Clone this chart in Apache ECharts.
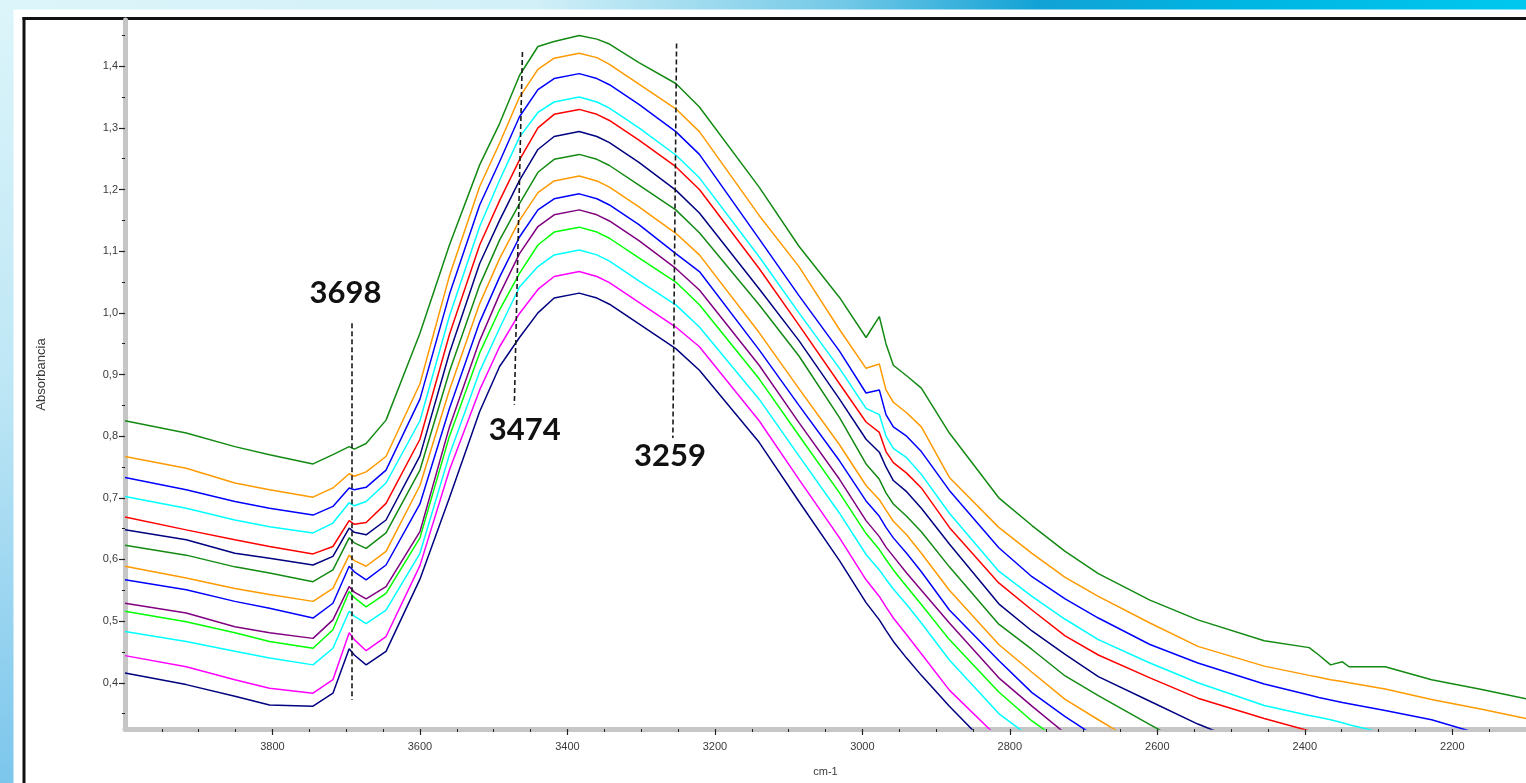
<!DOCTYPE html>
<html>
<head>
<meta charset="utf-8">
<title>Absorbancia</title>
<script src="https://cdn.jsdelivr.net/npm/echarts@6/dist/echarts.min.js"></script>
<style>
  html, body { margin: 0; padding: 0; background: #fff; }
  #chart { width: 1526px; height: 783px; }
</style>
</head>
<body>
<div id="chart"></div>
<script>
// wavenumbers (cm-1) shared by all spectra
var wavenumbers = [4000, 3917, 3851, 3804, 3745, 3718, 3696, 3689, 3673, 3646, 3600, 3560, 3519, 3492, 3465, 3440, 3418, 3384, 3360, 3343, 3303, 3253, 3221, 3140, 3086, 3031, 2995, 2977, 2968, 2958, 2940, 2920, 2882, 2815, 2770, 2725, 2680, 2610, 2545, 2455, 2394, 2381, 2365, 2349, 2340, 2291, 2228, 2160, 2100];

// absorbance of each spectrum, top to bottom
var spectrum01 = [0.825, 0.805, 0.783, 0.770, 0.755, 0.770, 0.783, 0.779, 0.788, 0.826, 0.967, 1.110, 1.240, 1.307, 1.385, 1.432, 1.440, 1.450, 1.444, 1.436, 1.406, 1.372, 1.334, 1.204, 1.108, 1.025, 0.960, 0.994, 0.950, 0.915, 0.898, 0.878, 0.805, 0.700, 0.655, 0.613, 0.577, 0.534, 0.502, 0.468, 0.457, 0.445, 0.429, 0.434, 0.426, 0.426, 0.405, 0.389, 0.374];
var spectrum02 = [0.767, 0.748, 0.724, 0.713, 0.701, 0.716, 0.739, 0.735, 0.742, 0.767, 0.885, 1.060, 1.205, 1.275, 1.350, 1.395, 1.413, 1.421, 1.414, 1.403, 1.371, 1.331, 1.294, 1.158, 1.075, 0.973, 0.910, 0.917, 0.875, 0.855, 0.838, 0.815, 0.733, 0.652, 0.610, 0.571, 0.540, 0.497, 0.459, 0.427, 0.412, 0.409, 0.405, 0.402, 0.400, 0.390, 0.373, 0.357, 0.342];
var spectrum03 = [0.733, 0.713, 0.694, 0.683, 0.672, 0.686, 0.716, 0.713, 0.717, 0.745, 0.860, 1.030, 1.175, 1.245, 1.318, 1.362, 1.380, 1.388, 1.380, 1.370, 1.338, 1.294, 1.257, 1.120, 1.028, 0.938, 0.870, 0.875, 0.835, 0.815, 0.800, 0.775, 0.712, 0.619, 0.572, 0.536, 0.505, 0.462, 0.432, 0.398, 0.380, 0.376, 0.372, 0.368, 0.366, 0.355, 0.340, 0.316, null];
var spectrum04 = [0.702, 0.683, 0.664, 0.653, 0.643, 0.659, 0.692, 0.687, 0.694, 0.724, 0.825, 0.995, 1.140, 1.215, 1.285, 1.325, 1.342, 1.350, 1.342, 1.332, 1.300, 1.256, 1.219, 1.091, 1.000, 0.910, 0.845, 0.835, 0.800, 0.780, 0.765, 0.738, 0.675, 0.581, 0.540, 0.503, 0.470, 0.432, 0.400, 0.363, 0.347, 0.344, 0.340, 0.335, 0.332, 0.318, null, null, null];
var spectrum05 = [0.669, 0.648, 0.632, 0.621, 0.609, 0.621, 0.663, 0.657, 0.660, 0.691, 0.795, 0.965, 1.110, 1.182, 1.248, 1.300, 1.322, 1.330, 1.322, 1.312, 1.280, 1.237, 1.200, 1.072, 0.980, 0.885, 0.823, 0.806, 0.775, 0.757, 0.740, 0.716, 0.652, 0.562, 0.518, 0.476, 0.445, 0.408, 0.375, 0.342, 0.322, null, null, null, null, null, null, null, null];
var spectrum06 = [0.648, 0.632, 0.610, 0.602, 0.591, 0.605, 0.651, 0.644, 0.640, 0.664, 0.768, 0.935, 1.080, 1.150, 1.215, 1.265, 1.286, 1.294, 1.286, 1.276, 1.244, 1.199, 1.162, 1.039, 0.955, 0.860, 0.795, 0.774, 0.750, 0.728, 0.710, 0.683, 0.625, 0.528, 0.484, 0.446, 0.410, 0.370, 0.333, 0.290, null, null, null, null, null, null, null, null, null];
var spectrum07 = [0.623, 0.607, 0.588, 0.578, 0.564, 0.583, 0.635, 0.627, 0.618, 0.643, 0.745, 0.905, 1.045, 1.118, 1.177, 1.228, 1.249, 1.257, 1.249, 1.239, 1.207, 1.167, 1.130, 1.013, 0.930, 0.830, 0.755, 0.730, 0.708, 0.690, 0.670, 0.645, 0.588, 0.495, 0.454, 0.411, 0.379, 0.332, 0.290, null, null, null, null, null, null, null, null, null, null];
var spectrum08 = [0.589, 0.570, 0.553, 0.543, 0.532, 0.553, 0.607, 0.598, 0.589, 0.613, 0.720, 0.875, 1.015, 1.088, 1.150, 1.195, 1.214, 1.222, 1.214, 1.204, 1.172, 1.129, 1.094, 0.968, 0.877, 0.786, 0.720, 0.697, 0.680, 0.662, 0.640, 0.610, 0.550, 0.462, 0.417, 0.373, 0.340, 0.290, null, null, null, null, null, null, null, null, null, null, null];
var spectrum09 = [0.567, 0.551, 0.532, 0.521, 0.505, 0.529, 0.589, 0.580, 0.567, 0.591, 0.690, 0.845, 0.985, 1.058, 1.123, 1.167, 1.185, 1.193, 1.185, 1.175, 1.143, 1.096, 1.067, 0.940, 0.850, 0.760, 0.695, 0.670, 0.652, 0.635, 0.610, 0.580, 0.518, 0.436, 0.384, 0.345, 0.310, null, null, null, null, null, null, null, null, null, null, null, null];
var spectrum10 = [0.529, 0.513, 0.491, 0.481, 0.472, 0.502, 0.556, 0.547, 0.536, 0.556, 0.645, 0.815, 0.955, 1.030, 1.096, 1.140, 1.159, 1.167, 1.159, 1.149, 1.117, 1.072, 1.037, 0.915, 0.822, 0.730, 0.663, 0.637, 0.620, 0.605, 0.578, 0.550, 0.497, 0.408, 0.362, 0.318, null, null, null, null, null, null, null, null, null, null, null, null, null];
var spectrum11 = [0.516, 0.499, 0.481, 0.467, 0.456, 0.486, 0.548, 0.538, 0.523, 0.545, 0.635, 0.800, 0.935, 1.005, 1.064, 1.110, 1.131, 1.139, 1.131, 1.121, 1.089, 1.050, 1.013, 0.893, 0.801, 0.708, 0.642, 0.616, 0.600, 0.583, 0.556, 0.527, 0.470, 0.385, 0.338, 0.300, null, null, null, null, null, null, null, null, null, null, null, null, null];
var spectrum12 = [0.483, 0.467, 0.451, 0.440, 0.429, 0.456, 0.516, 0.508, 0.496, 0.518, 0.610, 0.770, 0.905, 0.975, 1.042, 1.075, 1.094, 1.102, 1.094, 1.084, 1.052, 1.013, 0.977, 0.860, 0.768, 0.675, 0.608, 0.583, 0.568, 0.552, 0.527, 0.497, 0.437, 0.350, 0.310, null, null, null, null, null, null, null, null, null, null, null, null, null, null];
var spectrum13 = [0.444, 0.426, 0.405, 0.391, 0.383, 0.405, 0.481, 0.470, 0.452, 0.475, 0.590, 0.745, 0.875, 0.945, 0.999, 1.038, 1.059, 1.067, 1.059, 1.049, 1.017, 0.977, 0.945, 0.825, 0.730, 0.635, 0.567, 0.540, 0.523, 0.505, 0.478, 0.447, 0.388, 0.310, null, null, null, null, null, null, null, null, null, null, null, null, null, null, null];
var spectrum14 = [0.416, 0.397, 0.378, 0.364, 0.362, 0.383, 0.455, 0.445, 0.429, 0.451, 0.568, 0.700, 0.840, 0.913, 0.960, 1.000, 1.024, 1.032, 1.024, 1.014, 0.982, 0.942, 0.907, 0.790, 0.694, 0.598, 0.530, 0.502, 0.485, 0.467, 0.440, 0.412, 0.362, 0.280, null, null, null, null, null, null, null, null, null, null, null, null, null, null, null];

var spectra = [spectrum01, spectrum02, spectrum03, spectrum04, spectrum05, spectrum06, spectrum07,
               spectrum08, spectrum09, spectrum10, spectrum11, spectrum12, spectrum13, spectrum14];
var spectrumColors = ['#138a13', '#ff9a00', '#0000ff', '#00ffff', '#ff0000', '#000080', '#138a13',
                      '#ff9a00', '#0000ff', '#800080', '#00ff00', '#00ffff', '#ff00ff', '#000080'];

// tick labels
var xMajorTicks = [3800, 3600, 3400, 3200, 3000, 2800, 2600, 2400, 2200];
var yMajorTicks = [0.4, 0.5, 0.6, 0.7, 0.8, 0.9, 1.0, 1.1, 1.2, 1.3, 1.4];
var xMinorTicks = [];
for (var t = 2150; t <= 3950; t += 50) xMinorTicks.push(t);
var yMinorTicks = [];
for (var k = 7; k <= 29; k++) yMinorTicks.push(k / 20);

// band annotations: label text and where it sits, dashed marker lines
var bandLabels = [
    { text: '3698', x: 3701, y: 1.032 },
    { text: '3474', x: 3458, y: 0.810 },
    { text: '3259', x: 3261, y: 0.768 }
];
var bandLines = [
    [[3692.5, 0.983], [3692.5, 0.372]],
    [[3461, 1.423], [3472, 0.851]],
    [[3252, 1.437], [3257, 0.797]]
];

var chartDom = document.getElementById('chart');
var myChart = echarts.init(chartDom);

var plotRect = { left: 125, top: 20, width: 1402, height: 709 };
var labelFont = 'Liberation Sans, Arial, sans-serif';
var tickColor = '#222';

var series = spectra.map(function (values, i) {
    var points = [];
    values.forEach(function (v, j) {
        if (v !== null) points.push([wavenumbers[j], v]);
    });
    return {
        type: 'line',
        name: 'spectrum' + (i + 1),
        xAxisIndex: 0,
        yAxisIndex: 0,
        data: points,
        showSymbol: false,
        symbol: 'none',
        silent: true,
        clip: true,
        lineStyle: { width: 1.5, color: spectrumColors[i] },
        itemStyle: { color: spectrumColors[i] }
    };
});

// annotations ride on the last series
series[series.length - 1].markLine = {
    silent: true,
    symbol: ['none', 'none'],
    label: { show: false },
    lineStyle: { type: [5, 3], color: '#1a1a1a', width: 1.6 },
    data: bandLines.map(function (l) {
        return [{ coord: l[0] }, { coord: l[1] }];
    })
};
series[series.length - 1].markPoint = {
    silent: true,
    symbol: 'circle',
    symbolSize: 1,
    itemStyle: { color: 'rgba(0,0,0,0)' },
    label: {
        show: true,
        position: 'inside',
        formatter: function (p) { return p.name; },
        fontFamily: 'Lato, sans-serif',
        fontWeight: 'bold',
        fontSize: 31,
        color: '#111'
    },
    data: bandLabels.map(function (b) {
        return { name: b.text, coord: [b.x, b.y] };
    })
};

var option = {
    animation: false,
    backgroundColor: '#ffffff',
    graphic: [
        {
            type: 'rect', z: -1, silent: true,
            shape: { x: 0, y: 0, width: 1526, height: 9.5 },
            style: {
                fill: new echarts.graphic.LinearGradient(0, 0, 1, 0, [
                    { offset: 0, color: '#dcf5fa' },
                    { offset: 0.35, color: '#d2f0f8' },
                    { offset: 0.55, color: '#74c9e7' },
                    { offset: 0.68, color: '#12a2d5' },
                    { offset: 0.8, color: '#00b4e2' },
                    { offset: 1, color: '#00c8ee' }
                ])
            }
        },
        {
            type: 'rect', z: -1, silent: true,
            shape: { x: 0, y: 0, width: 13.5, height: 783 },
            style: {
                fill: new echarts.graphic.LinearGradient(0, 0, 0, 1, [
                    { offset: 0, color: '#dcf5fa' },
                    { offset: 0.5, color: '#bde6f5' },
                    { offset: 1, color: '#7cc6ec' }
                ])
            }
        },
        {
            type: 'line', silent: true,
            shape: { x1: 22.5, y1: 18.5, x2: 1526, y2: 18.5 },
            style: { stroke: '#111', lineWidth: 3 }
        },
        {
            type: 'line', silent: true,
            shape: { x1: 24, y1: 17, x2: 24, y2: 783 },
            style: { stroke: '#111', lineWidth: 3 }
        }
    ],
    grid: [
        { left: plotRect.left, top: plotRect.top, width: plotRect.width, height: plotRect.height, containLabel: false },
        { left: plotRect.left, top: plotRect.top, width: plotRect.width, height: plotRect.height, containLabel: false }
    ],
    xAxis: [
        {
            gridIndex: 0, type: 'value', inverse: true, min: 2100, max: 4000,
            axisLine: { show: true, onZero: false, lineStyle: { color: '#c6c6c6', width: 5 } },
            axisTick: { show: true, customValues: xMinorTicks, length: 3, lineStyle: { color: tickColor, width: 1 } },
            axisLabel: { show: false },
            splitLine: { show: false }
        },
        {
            gridIndex: 1, type: 'value', inverse: true, min: 2100, max: 4000,
            axisLine: { show: false, onZero: false },
            axisTick: { show: true, customValues: xMajorTicks, length: 6, lineStyle: { color: tickColor, width: 1.2 } },
            axisLabel: {
                show: true, customValues: xMajorTicks, margin: 12,
                fontSize: 11, color: '#3a3a3a', fontFamily: labelFont,
                formatter: function (v) { return String(v); }
            },
            splitLine: { show: false },
            name: 'cm-1', nameLocation: 'middle', nameGap: 37,
            nameTextStyle: { fontSize: 11, color: '#3a3a3a', fontFamily: labelFont }
        }
    ],
    yAxis: [
        {
            gridIndex: 0, type: 'value', min: 0.325, max: 1.475,
            axisLine: { show: true, onZero: false, lineStyle: { color: '#c6c6c6', width: 5 } },
            axisTick: { show: true, customValues: yMinorTicks, length: 3, lineStyle: { color: tickColor, width: 1 } },
            axisLabel: { show: false },
            splitLine: { show: false }
        },
        {
            gridIndex: 1, type: 'value', min: 0.325, max: 1.475,
            axisLine: { show: false, onZero: false },
            axisTick: { show: true, customValues: yMajorTicks, length: 6, lineStyle: { color: tickColor, width: 1.2 } },
            axisLabel: {
                show: true, customValues: yMajorTicks, margin: 7,
                fontSize: 11, color: '#3a3a3a', fontFamily: labelFont,
                formatter: function (v) { return v.toFixed(1).replace('.', ','); }
            },
            splitLine: { show: false },
            name: 'Absorbancia', nameLocation: 'middle', nameGap: 77,
            nameTextStyle: { fontSize: 13, color: '#3a3a3a', fontFamily: labelFont }
        }
    ],
    series: series
};

option && myChart.setOption(option);
</script>
</body>
</html>
